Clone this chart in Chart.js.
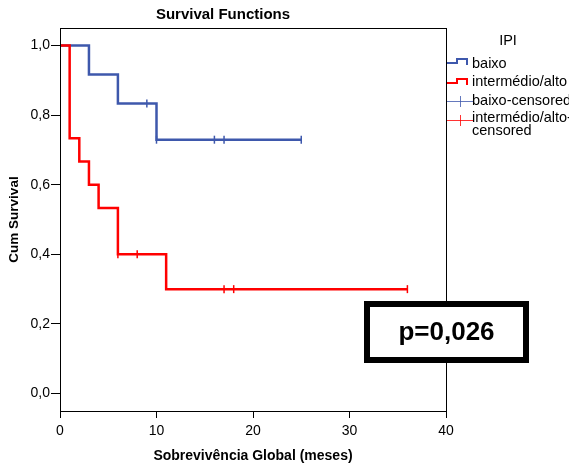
<!DOCTYPE html>
<html>
<head>
<meta charset="utf-8">
<script src="https://cdn.jsdelivr.net/npm/chart.js@4.4.1/dist/chart.umd.min.js"></script>
<style>
  html, body { margin: 0; padding: 0; background: #fff; }
  #wrap { width: 569px; height: 464px; }
</style>
</head>
<body>
<div id="wrap"><canvas id="kmChart" width="569" height="464"></canvas></div>
<script>
// Kaplan-Meier data
const baixoTimes = [0, 3, 6, 10, 25];
const baixoSurv = [1.0, 0.9167, 0.8333, 0.7292, 0.7292];
const baixoCensTimes = [9, 10, 16, 17, 25];
const baixoCensSurv = [0.8333, 0.7292, 0.7292, 0.7292, 0.7292];

const altoTimes = [0, 1, 2, 3, 4, 6, 11, 36];
const altoSurv = [1.0, 0.7333, 0.6667, 0.6, 0.5333, 0.4, 0.3, 0.3];
const altoCensTimes = [6, 8, 17, 18, 36];
const altoCensSurv = [0.4, 0.4, 0.3, 0.3, 0.3];

const yTicks = [0, 0.2, 0.4, 0.6, 0.8, 1.0];
const legendLabels = ["baixo", "intermédio/alto", "baixo-censored", ["intermédio/alto-", "censored"]];
const pValue = "p=0,026";

const BLUE = "#3E58AC";
const RED = "#FF0000";
const FONT = "'Liberation Sans', Arial, sans-serif";

function pts(xs, ys) {
  return xs.map((x, i) => ({ x: x, y: ys[i] }));
}

// box round the plot, legend on the right and the p-value box
const extras = {
  id: "extras",
  afterDraw(chart) {
    const c = chart.ctx;
    const a = chart.chartArea;
    c.save();
    c.strokeStyle = "#000";
    c.lineWidth = 1;
    c.strokeRect(Math.round(a.left) + 0.5, Math.round(a.top) + 0.5,
      Math.round(a.right - a.left), Math.round(a.bottom - a.top));

    // legend
    c.fillStyle = "#000";
    c.font = "14.5px " + FONT;
    c.textAlign = "center";
    c.textBaseline = "middle";
    c.fillText("IPI", 508, 41);
    c.textAlign = "left";

    c.lineWidth = 2;
    [[BLUE, 63], [RED, 83]].forEach(([col, y]) => {
      c.strokeStyle = col;
      c.beginPath();
      c.moveTo(447, y);
      c.lineTo(457, y);
      c.lineTo(457, y - 4);
      c.lineTo(467, y - 4);
      c.lineTo(467, y + 2);
      c.stroke();
    });
    c.lineWidth = 1;
    [["rgba(62,88,172,0.8)", 101], ["rgba(255,0,0,0.8)", 120]].forEach(([col, y]) => {
      c.strokeStyle = col;
      c.beginPath();
      c.moveTo(447, y + 0.5);
      c.lineTo(473, y + 0.5);
      c.moveTo(460.5, y - 5);
      c.lineTo(460.5, y + 6);
      c.stroke();
    });
    c.fillText(legendLabels[0], 472, 64);
    c.fillText(legendLabels[1], 472, 82);
    c.fillText(legendLabels[2], 472, 101);
    c.fillText(legendLabels[3][0], 472, 118);
    c.fillText(legendLabels[3][1], 472, 131);

    // p-value box
    c.fillStyle = "#fff";
    c.fillRect(364, 301, 165, 62);
    c.strokeStyle = "#000";
    c.lineWidth = 6;
    c.strokeRect(367, 304, 159, 56);
    c.fillStyle = "#000";
    c.font = "bold 26px " + FONT;
    c.textAlign = "center";
    c.fillText(pValue, 446.5, 333);
    c.restore();
  }
};

const config = {
  type: "line",
  data: {
    datasets: [
      {
        label: "intermédio/alto",
        data: pts(altoTimes, altoSurv),
        borderColor: RED,
        borderWidth: 2.5,
        stepped: true,
        pointRadius: 0,
        fill: false
      },
      {
        label: "baixo",
        data: pts(baixoTimes, baixoSurv),
        borderColor: BLUE,
        borderWidth: 2.5,
        stepped: true,
        pointRadius: 0,
        fill: false
      },
      {
        label: "intermédio/alto-censored",
        data: pts(altoCensTimes, altoCensSurv),
        showLine: false,
        pointStyle: "line",
        rotation: 90,
        pointRadius: 4,
        pointBorderWidth: 1.5,
        pointBorderColor: RED
      },
      {
        label: "baixo-censored",
        data: pts(baixoCensTimes, baixoCensSurv),
        showLine: false,
        pointStyle: "line",
        rotation: 90,
        pointRadius: 4,
        pointBorderWidth: 1.5,
        pointBorderColor: BLUE
      }
    ]
  },
  options: {
    responsive: false,
    animation: false,
    layout: { padding: { left: 0, top: 0, right: 123, bottom: 0 } },
    plugins: {
      legend: { display: false },
      tooltip: { enabled: false },
      title: {
        display: true,
        text: "Survival Functions",
        color: "#000",
        font: { family: FONT, size: 15, weight: "bold" },
        padding: { top: 6, bottom: 4 }
      }
    },
    scales: {
      x: {
        type: "linear",
        min: 0,
        max: 40,
        ticks: { stepSize: 10, color: "#000", font: { family: FONT, size: 14 }, padding: 5, maxRotation: 0 },
        grid: { drawOnChartArea: false, drawTicks: true, tickLength: 7, color: "#000" },
        border: { display: true, color: "#000" },
        title: {
          display: true,
          text: "Sobrevivência Global (meses)",
          color: "#000",
          font: { family: FONT, size: 14, weight: "bold" },
          padding: { top: 0, bottom: -1 }
        },
        afterFit(scale) { scale.height = 53; }
      },
      y: {
        min: -0.05,
        max: 1.05,
        afterBuildTicks(scale) { scale.ticks = yTicks.map(v => ({ value: v })); },
        ticks: {
          color: "#000",
          font: { family: FONT, size: 14 },
          padding: 1,
          callback: v => v.toFixed(1).replace(".", ",")
        },
        grid: { drawOnChartArea: false, drawTicks: true, tickLength: 9, color: "#000" },
        border: { display: true, color: "#000" },
        title: {
          display: true,
          text: "Cum Survival",
          color: "#000",
          font: { family: FONT, size: 13.5, weight: "bold" },
          padding: { top: 6, bottom: 0 }
        },
        afterFit(scale) { scale.width = 60; }
      }
    }
  },
  plugins: [extras]
};

const kmChart = new Chart(document.getElementById("kmChart").getContext("2d"), config);
</script>
</body>
</html>
